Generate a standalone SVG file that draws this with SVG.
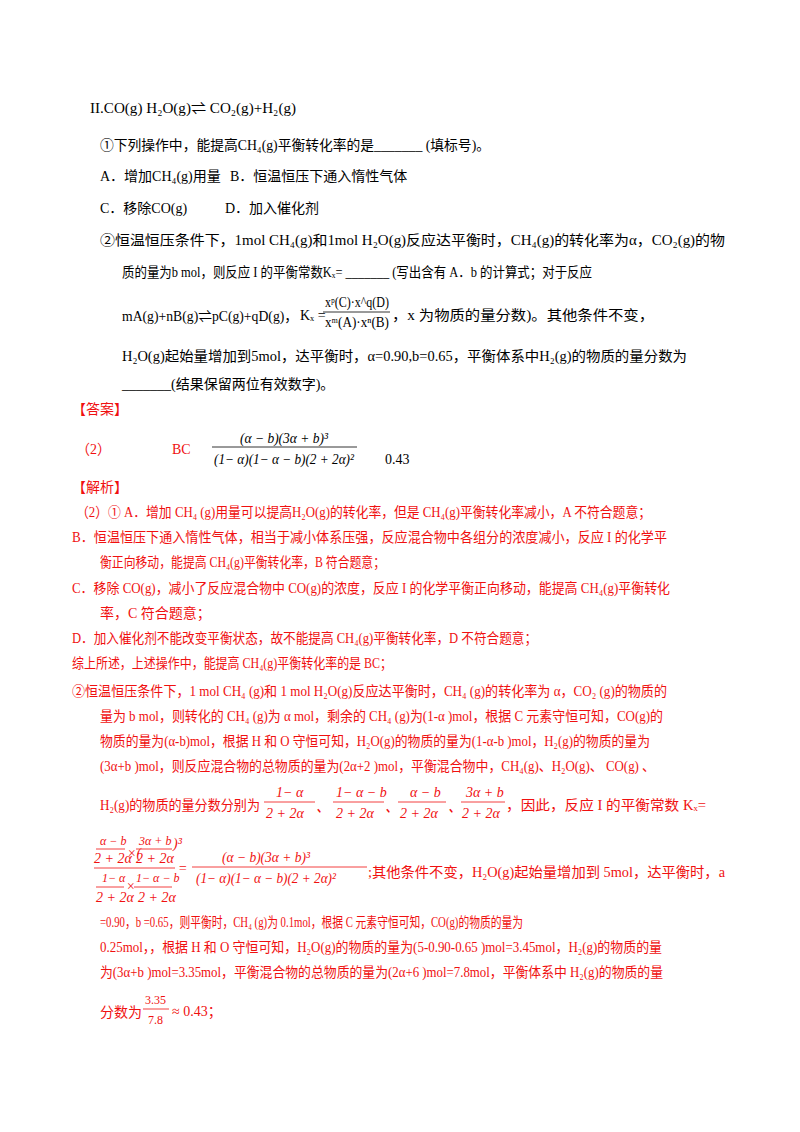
<svg xmlns="http://www.w3.org/2000/svg" width="800" height="1132" viewBox="0 0 800 1132">
<style>
text{font-family:"Liberation Serif","Noto Sans CJK SC",serif;font-size:14px;fill:#000}
.r{fill:#f01010}
.s{font-size:12px}
.m{font-style:italic}
line{stroke:#000;stroke-width:0.8}
.rl{stroke:#f01010}
</style>
<rect width="800" height="1132" fill="#fff"/>
<g id="question">
<text x="90" y="113" font-size="12" textLength="206" lengthAdjust="spacingAndGlyphs">II.CO(g)  H₂O(g)⇌ CO₂(g)+H₂(g)</text>
<text x="100" y="150" textLength="390" lengthAdjust="spacingAndGlyphs">①下列操作中，能提高CH₄(g)平衡转化率的是_______ (填标号)。</text>
<text x="100" y="181">A．增加CH₄(g)用量</text>
<text x="230" y="181">B．恒温恒压下通入惰性气体</text>
<text x="100" y="213">C．移除CO(g)</text>
<text x="225" y="213">D．加入催化剂</text>
<text x="100" y="245" textLength="625" lengthAdjust="spacingAndGlyphs">②恒温恒压条件下，1mol CH₄(g)和1mol H₂O(g)反应达平衡时，CH₄(g)的转化率为α，CO₂(g)的物</text>
<text x="122" y="277" textLength="470" lengthAdjust="spacingAndGlyphs">质的量为b mol，则反应 I 的平衡常数Kₓ= _______ (写出含有 A．b 的计算式；对于反应</text>
<text x="122" y="321" textLength="176" lengthAdjust="spacingAndGlyphs">mA(g)+nB(g)⇌pC(g)+qD(g)，</text>
<text x="300" y="320">Kₓ =</text>
<text x="325" y="307" font-size="13" textLength="64" lengthAdjust="spacingAndGlyphs">xᵖ(C)·x^q(D)</text>
<line x1="323" y1="312" x2="390" y2="312"/>
<text x="325" y="327" font-size="13" textLength="64" lengthAdjust="spacingAndGlyphs">xᵐ(A)·xⁿ(B)</text>
<text x="392" y="320" textLength="262" lengthAdjust="spacingAndGlyphs">，x 为物质的量分数)。其他条件不变，</text>
<text x="122" y="361" textLength="565" lengthAdjust="spacingAndGlyphs">H₂O(g)起始量增加到5mol，达平衡时，α=0.90,b=0.65，平衡体系中H₂(g)的物质的量分数为</text>
<text x="122" y="389">_______(结果保留两位有效数字)。</text>
</g>
<g id="answer">
<text x="72" y="414" class="r">【答案】</text>
<text x="76" y="454" class="r">（2）</text>
<text x="172" y="454" class="r">BC</text>
<text x="240" y="443" class="m" font-size="13" textLength="88" lengthAdjust="spacingAndGlyphs">(α − b)(3α + b)³</text>
<line x1="212" y1="447" x2="357" y2="447"/>
<text x="214" y="464" class="m" font-size="13" textLength="140" lengthAdjust="spacingAndGlyphs">(1− α)(1− α − b)(2 + 2α)²</text>
<text x="385" y="464">0.43</text>
</g>
<g id="analysis" class="r">
<text x="72" y="492" class="r">【解析】</text>
<text x="76" y="517" class="r" textLength="575" lengthAdjust="spacingAndGlyphs">（2）① A．增加 CH₄ (g)用量可以提高H₂O(g)的转化率，但是 CH₄(g)平衡转化率减小，A 不符合题意；</text>
<text x="72" y="542" class="r" textLength="595" lengthAdjust="spacingAndGlyphs">B．恒温恒压下通入惰性气体，相当于减小体系压强，反应混合物中各组分的浓度减小，反应 I 的化学平</text>
<text x="100" y="567" class="r" textLength="285" lengthAdjust="spacingAndGlyphs">衡正向移动，能提高 CH₄(g)平衡转化率，B 符合题意；</text>
<text x="72" y="593" class="r" textLength="598" lengthAdjust="spacingAndGlyphs">C．移除 CO(g)，减小了反应混合物中 CO(g)的浓度，反应 I 的化学平衡正向移动，能提高 CH₄(g)平衡转化</text>
<text x="100" y="618" class="r">率，C 符合题意；</text>
<text x="72" y="643" class="r" textLength="465" lengthAdjust="spacingAndGlyphs">D．加入催化剂不能改变平衡状态，故不能提高 CH₄(g)平衡转化率，D 不符合题意；</text>
<text x="72" y="668" class="r" textLength="320" lengthAdjust="spacingAndGlyphs">综上所述，上述操作中，能提高 CH₄(g)平衡转化率的是 BC；</text>
<text x="72" y="696" class="r" textLength="595" lengthAdjust="spacingAndGlyphs">②恒温恒压条件下，1 mol CH₄ (g)和 1 mol H₂O(g)反应达平衡时，CH₄ (g)的转化率为 α，CO₂ (g)的物质的</text>
<text x="100" y="721" class="r" textLength="563" lengthAdjust="spacingAndGlyphs">量为 b mol，则转化的 CH₄ (g)为 α mol，剩余的 CH₄ (g)为(1-α )mol，根据 C 元素守恒可知，CO(g)的</text>
<text x="100" y="746" class="r" textLength="550" lengthAdjust="spacingAndGlyphs">物质的量为(α-b)mol，根据 H 和 O 守恒可知，H₂O(g)的物质的量为(1-α-b )mol，H₂(g)的物质的量为</text>
<text x="100" y="771" class="r" textLength="555" lengthAdjust="spacingAndGlyphs">(3α+b )mol，则反应混合物的总物质的量为(2α+2 )mol，平衡混合物中，CH₄(g)、H₂O(g)、 CO(g) 、</text>
<text x="100" y="810" class="r" textLength="160" lengthAdjust="spacingAndGlyphs">H₂(g)的物质的量分数分别为</text>
<g class="m">
<text x="276" y="797" class="r">1− α</text>
<line class="rl" x1="264" y1="802" x2="315" y2="802"/>
<text x="266" y="818" class="r">2 + 2α</text>
<text x="316" y="812" class="r" font-size="11">、</text>
<text x="336" y="797" class="r">1− α − b</text>
<line class="rl" x1="333" y1="802" x2="384" y2="802"/>
<text x="336" y="818" class="r">2 + 2α</text>
<text x="385" y="812" class="r" font-size="11">、</text>
<text x="410" y="797" class="r">α − b</text>
<line class="rl" x1="398" y1="802" x2="446" y2="802"/>
<text x="400" y="818" class="r">2 + 2α</text>
<text x="448" y="812" class="r" font-size="10">、</text>
<text x="466" y="797" class="r">3α + b</text>
<line class="rl" x1="461" y1="802" x2="505" y2="802"/>
<text x="462" y="818" class="r">2 + 2α</text>
</g>
<text x="506" y="810" class="r" textLength="200" lengthAdjust="spacingAndGlyphs">，因此，反应 I 的平衡常数 Kₓ=</text>
<g class="m">
<text x="100" y="845" class="r s">α − b</text>
<text x="127" y="858" class="r" font-size="9">×(</text>
<text x="139" y="845" class="r s">3α + b</text>
<text x="173" y="848" class="r" font-size="8">)³</text>
<line class="rl" x1="96" y1="849" x2="125" y2="849"/>
<line class="rl" x1="136" y1="849" x2="172" y2="849"/>
<text x="94" y="863" class="r" font-size="11">2 + 2α</text>
<text x="136" y="863" class="r" font-size="11">2 + 2α</text>
<line class="rl" x1="94" y1="868" x2="175" y2="868"/>
<text x="102" y="882" class="r s">1− α</text>
<text x="126" y="891" class="r" font-size="9">×</text>
<text x="136" y="882" class="r s">1− α − b</text>
<line class="rl" x1="96" y1="887" x2="124" y2="887"/>
<line class="rl" x1="134" y1="887" x2="172" y2="887"/>
<text x="96" y="902" class="r" font-size="11">2 + 2α</text>
<text x="138" y="902" class="r" font-size="11">2 + 2α</text>
<text x="178" y="873" class="r">=</text>
<text x="222" y="862" class="r" font-size="13" textLength="88" lengthAdjust="spacingAndGlyphs">(α − b)(3α + b)³</text>
<line class="rl" x1="192" y1="867" x2="367" y2="867"/>
<text x="196" y="883" class="r" font-size="13" textLength="140" lengthAdjust="spacingAndGlyphs">(1− α)(1− α − b)(2 + 2α)²</text>
</g>
<text x="368" y="877" class="r" textLength="357" lengthAdjust="spacingAndGlyphs">;其他条件不变，H₂O(g)起始量增加到 5mol，达平衡时，a</text>
<text x="100" y="927" class="r" textLength="423" lengthAdjust="spacingAndGlyphs">=0.90，b =0.65，则平衡时，CH₄ (g)为 0.1mol，根据 C 元素守恒可知，CO(g)的物质的量为</text>
<text x="100" y="952" class="r" textLength="562" lengthAdjust="spacingAndGlyphs">0.25mol，，根据 H 和 O 守恒可知，H₂O(g)的物质的量为(5-0.90-0.65 )mol=3.45mol，H₂(g)的物质的量</text>
<text x="100" y="977" class="r" textLength="563" lengthAdjust="spacingAndGlyphs">为(3α+b )mol=3.35mol，平衡混合物的总物质的量为(2α+6 )mol=7.8mol，平衡体系中 H₂(g)的物质的量</text>
<text x="100" y="1017" class="r">分数为</text>
<text x="145" y="1004" class="r s">3.35</text>
<line class="rl" x1="143" y1="1009" x2="169" y2="1009"/>
<text x="148" y="1024" class="r s">7.8</text>
<text x="172" y="1016" class="r">≈ 0.43；</text>
</g>
</svg>
